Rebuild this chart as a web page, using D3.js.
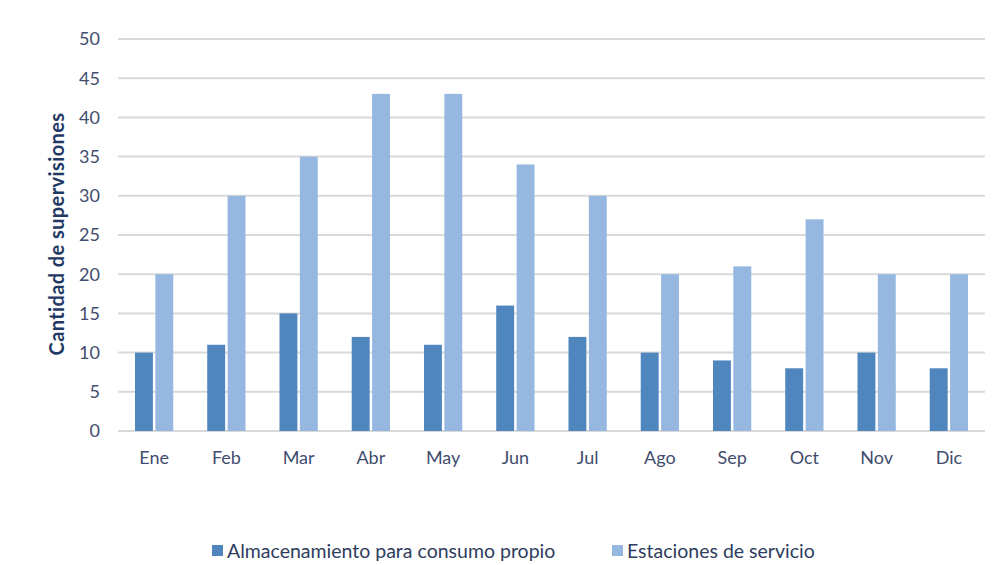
<!DOCTYPE html>
<html>
<head>
<meta charset="utf-8">
<style>
body { margin: 0; background: #fff; font-family: Lato, "Open Sans", sans-serif; }
.grid line { stroke: #d9d9d9; stroke-width: 2; }
.axis text { fill: #3f4d6e; font-size: 18px; }
.ytitle { fill: #1f3864; font-size: 20px; font-weight: bold; letter-spacing: 0.4px; }
.legend text { fill: #2e3d5e; font-size: 19.5px; }
</style>
<script src="https://d3js.org/d3.v7.min.js"></script>
</head>
<body>
<svg id="chart" width="996" height="565"></svg>
<script>
var months = ["Ene", "Feb", "Mar", "Abr", "May", "Jun", "Jul", "Ago", "Sep", "Oct", "Nov", "Dic"];
var almacenamiento = [10, 11, 15, 12, 11, 16, 12, 10, 9, 8, 10, 8];
var estaciones = [20, 30, 35, 43, 43, 34, 30, 20, 21, 27, 20, 20];
var seriesNames = ["Almacenamiento para consumo propio", "Estaciones de servicio"];
var colors = ["#4f86bd", "#96b8e0"];
var yTicks = [0, 5, 10, 15, 20, 25, 30, 35, 40, 45, 50];

var svg = d3.select("#chart");
var plotLeft = 118, plotRight = 985, plotTop = 39, plotBottom = 431;

var x0 = d3.scaleBand().domain(months).range([plotLeft, plotRight]).paddingInner(0.47).paddingOuter(0.235);
var x1 = d3.scaleBand().domain([0, 1]).range([0, x0.bandwidth()]).paddingInner(0.12);
var y = d3.scaleLinear().domain([0, 50]).range([plotBottom, plotTop]);

// gridlines
svg.append("g").attr("class", "grid")
  .selectAll("line").data(yTicks).enter().append("line")
  .attr("x1", plotLeft).attr("x2", plotRight)
  .attr("y1", function(d) { return y(d); })
  .attr("y2", function(d) { return y(d); });

// y labels
svg.append("g").attr("class", "axis")
  .selectAll("text").data(yTicks).enter().append("text")
  .attr("x", 100).attr("y", function(d) { return y(d); })
  .attr("dy", "0.35em").attr("text-anchor", "end")
  .text(function(d) { return d; });

// x labels
svg.append("g").attr("class", "axis")
  .selectAll("text").data(months).enter().append("text")
  .attr("x", function(d) { return x0(d) + x0.bandwidth() / 2; })
  .attr("y", 464).attr("text-anchor", "middle")
  .text(function(d) { return d; });

// bars
var groups = svg.append("g").selectAll("g").data(months).enter().append("g")
  .attr("transform", function(d) { return "translate(" + x0(d) + ",0)"; });

groups.selectAll("rect")
  .data(function(d, i) { return [almacenamiento[i], estaciones[i]]; })
  .enter().append("rect")
  .attr("x", function(d, j) { return x1(j); })
  .attr("width", x1.bandwidth())
  .attr("y", function(d) { return y(d); })
  .attr("height", function(d) { return y(0) - y(d); })
  .attr("fill", function(d, j) { return colors[j]; });

// y title
svg.append("text").attr("class", "ytitle")
  .attr("transform", "translate(64,234) rotate(-90)")
  .attr("text-anchor", "middle")
  .text("Cantidad de supervisiones");

// legend
var legX = [212, 612];
var leg = svg.append("g").attr("class", "legend");
seriesNames.forEach(function(name, i) {
  leg.append("rect").attr("x", legX[i]).attr("y", 545).attr("width", 11).attr("height", 11).attr("fill", colors[i]);
  leg.append("text").attr("x", legX[i] + 15).attr("y", 558).text(name);
});
</script>
</body>
</html>
